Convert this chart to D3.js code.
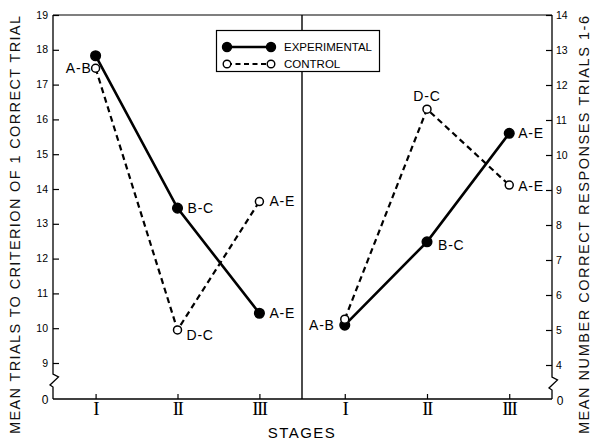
<!DOCTYPE html>
<html>
<head>
<meta charset="utf-8">
<script src="https://cdn.jsdelivr.net/npm/d3@7"></script>
<style>
  body { margin: 0; background: #fff; }
  svg { display: block; font-family: "Liberation Sans", Arial, sans-serif; }
</style>
</head>
<body>
<div id="chart"></div>
<script>
// stages on the x axis (drawn twice, one per panel)
const stages = ["I", "II", "III"];

// left panel: mean trials to criterion
const leftExperimental = [17.83, 13.45, 10.43];
const leftControl = [17.47, 9.95, 13.64];
const leftTicks = [9, 10, 11, 12, 13, 14, 15, 16, 17, 18, 19];

// right panel: mean number correct responses trials 1-6
const rightExperimental = [5.14, 7.52, 10.62];
const rightControl = [5.31, 11.31, 9.14];
const rightTicks = [4, 5, 6, 7, 8, 9, 10, 11, 12, 13, 14];

// task labels next to the points
const leftExpLabels = ["", "B-C", "A-E"];
const leftCtlLabels = ["A-B", "D-C", "A-E"];
const rightExpLabels = ["A-B", "B-C", "A-E"];
const rightCtlLabels = ["", "D-C", "A-E"];

const legendNames = ["EXPERIMENTAL", "CONTROL"];

// set the dimensions of the graph
const W = 598,
  H = 444;
const pLeft = 53,
  pMid = 302,
  pRight = 552,
  pTop = 15,
  pBottom = 399;

const svg = d3
  .select("#chart")
  .append("svg")
  .attr("width", W)
  .attr("height", H);

// scales
const xLeft = d3.scalePoint().domain(stages).range([pLeft, pMid]).padding(0.52);
const xRight = d3.scalePoint().domain(stages).range([pMid, pRight]).padding(0.52);
const yLeft = d3.scaleLinear().domain([9, 19]).range([363, pTop]);
const yRight = d3.scaleLinear().domain([4, 14]).range([365, pTop]);

// frame: top line, bottom line, centre divider
svg.append("line").attr("x1", pLeft).attr("x2", pRight).attr("y1", pTop).attr("y2", pTop)
  .attr("stroke", "#000").attr("stroke-width", 1.2);
svg.append("line").attr("x1", pLeft).attr("x2", pRight).attr("y1", pBottom).attr("y2", pBottom)
  .attr("stroke", "#000").attr("stroke-width", 1.4);
svg.append("line").attr("x1", pMid).attr("x2", pMid).attr("y1", pTop).attr("y2", pBottom)
  .attr("stroke", "#000").attr("stroke-width", 1.4);

// vertical axis with a break just above zero
function brokenAxis(x, yBreak) {
  const pts = [
    [x, pTop],
    [x, yBreak],
    [x + 5.5, yBreak + 3],
    [x - 3, yBreak + 11],
    [x, yBreak + 13],
    [x, pBottom],
  ];
  svg.append("path").attr("d", d3.line()(pts))
    .attr("fill", "none").attr("stroke", "#000").attr("stroke-width", 1.3);
}
brokenAxis(pLeft, 374);
brokenAxis(pRight, 377);

// Y axes (ticks pointing inward)
const axisL = svg.append("g").attr("transform", `translate(${pLeft},0)`)
  .call(d3.axisRight(yLeft).tickValues(leftTicks).tickSize(6).tickFormat(""));
axisL.select(".domain").remove();
axisL.selectAll("line").attr("stroke-width", 1.2);

const axisR = svg.append("g").attr("transform", `translate(${pRight},0)`)
  .call(d3.axisLeft(yRight).tickValues(rightTicks).tickSize(6).tickFormat(""));
axisR.select(".domain").remove();
axisR.selectAll("line").attr("stroke-width", 1.2);

// tick labels
svg.append("g").selectAll("text").data(leftTicks).join("text")
  .attr("x", pLeft - 5).attr("y", (d) => yLeft(d)).attr("dy", "0.35em")
  .attr("text-anchor", "end").attr("font-size", 10.5).text((d) => d);
svg.append("g").selectAll("text").data(rightTicks).join("text")
  .attr("x", pRight + 4).attr("y", (d) => yRight(d)).attr("dy", "0.35em")
  .attr("text-anchor", "start").attr("font-size", 10.5).text((d) => d);
svg.append("text").attr("x", pLeft - 8).attr("y", pBottom + 1).attr("dy", "0.35em")
  .attr("text-anchor", "middle").attr("font-size", 12).text("0");
svg.append("text").attr("x", pRight + 8).attr("y", pBottom + 2).attr("dy", "0.35em")
  .attr("text-anchor", "middle").attr("font-size", 12).text("0");

// X axes: small ticks going up and roman numerals below
[xLeft, xRight].forEach((x) => {
  const g = svg.append("g").attr("transform", `translate(0,${pBottom})`)
    .call(d3.axisTop(x).tickSize(5).tickFormat(""));
  g.select(".domain").remove();
  g.selectAll("line").attr("stroke-width", 1.2);
  svg.append("g").selectAll("text").data(stages).join("text")
    .attr("x", (d) => x(d)).attr("y", pBottom + 16)
    .attr("text-anchor", "middle")
    .attr("font-family", "'Liberation Serif', 'DejaVu Serif', serif")
    .attr("font-size", 19).attr("letter-spacing", -1.6)
    .text((d) => d);
});

// axis titles
svg.append("text")
  .attr("transform", `translate(20,${(pTop + pBottom) / 2 + 18}) rotate(-90)`)
  .attr("text-anchor", "middle").attr("font-size", 14.5).attr("fill", "#111")
  .attr("textLength", 418).attr("lengthAdjust", "spacing")
  .text("MEAN TRIALS TO CRITERION OF 1 CORRECT TRIAL");
svg.append("text")
  .attr("transform", `translate(589,${(pTop + pBottom) / 2 + 18}) rotate(-90)`)
  .attr("text-anchor", "middle").attr("font-size", 14.5).attr("fill", "#111")
  .attr("textLength", 418).attr("lengthAdjust", "spacing")
  .text("MEAN NUMBER CORRECT RESPONSES TRIALS 1-6");
svg.append("text")
  .attr("x", pMid).attr("y", 438).attr("text-anchor", "middle")
  .attr("font-size", 15).attr("letter-spacing", 1.5)
  .text("STAGES");

// legend (covers the divider)
const legend = svg.append("g");
legend.append("rect").attr("x", 216.5).attr("y", 30.5).attr("width", 163).attr("height", 41)
  .attr("fill", "#fff").attr("stroke", "#000").attr("stroke-width", 1.2);
legendNames.forEach((name, i) => {
  const filled = i === 0;
  const ly = 47 + i * 17;
  legend.append("line").attr("x1", 227).attr("x2", 271).attr("y1", ly).attr("y2", ly)
    .attr("stroke", "#000").attr("stroke-width", filled ? 2.6 : 2.2)
    .attr("stroke-dasharray", filled ? null : "5,3.5");
  legend.selectAll(null).data([227, 271]).join("circle")
    .attr("cx", (d) => d).attr("cy", ly).attr("r", filled ? 4.5 : 3.8)
    .attr("fill", filled ? "#000" : "#fff").attr("stroke", "#000").attr("stroke-width", 1.4);
  legend.append("text").attr("x", 284).attr("y", ly).attr("dy", "0.35em")
    .attr("font-size", 11.5).text(name);
});

// series drawing
function series(x, y, values, filled) {
  const pts = stages.map((s, i) => [x(s), y(values[i])]);
  svg.append("path").attr("d", d3.line()(pts))
    .attr("fill", "none").attr("stroke", "#000")
    .attr("stroke-width", filled ? 2.6 : 2.2)
    .attr("stroke-dasharray", filled ? null : "6,4");
  svg.append("g").selectAll("circle").data(pts).join("circle")
    .attr("cx", (d) => d[0]).attr("cy", (d) => d[1])
    .attr("r", filled ? 4.8 : 4)
    .attr("fill", filled ? "#000" : "#fff")
    .attr("stroke", "#000").attr("stroke-width", 1.5);
}
series(xLeft, yLeft, leftExperimental, true);
series(xLeft, yLeft, leftControl, false);
series(xRight, yRight, rightExperimental, true);
series(xRight, yRight, rightControl, false);

// point labels: [dx, dy, anchor] per point
function labels(x, y, values, texts, place) {
  svg.append("g").selectAll("text").data(texts).join("text")
    .attr("x", (d, i) => x(stages[i]) + place[i][0])
    .attr("y", (d, i) => y(values[i]) + place[i][1])
    .attr("dy", "0.35em")
    .attr("text-anchor", (d, i) => place[i][2])
    .attr("font-size", 14).attr("letter-spacing", 0.8)
    .text((d) => d);
}
labels(xLeft, yLeft, leftExperimental, leftExpLabels, [[0, 0, "start"], [10, 0, "start"], [10, 0, "start"]]);
labels(xLeft, yLeft, leftControl, leftCtlLabels, [[-4, 0, "end"], [9, 5, "start"], [10, 0, "start"]]);
labels(xRight, yRight, rightExperimental, rightExpLabels, [[-10, 0, "end"], [11, 3, "start"], [9, 0, "start"]]);
labels(xRight, yRight, rightControl, rightCtlLabels, [[0, 0, "start"], [0, -13, "middle"], [9, 1, "start"]]);
</script>
</body>
</html>
